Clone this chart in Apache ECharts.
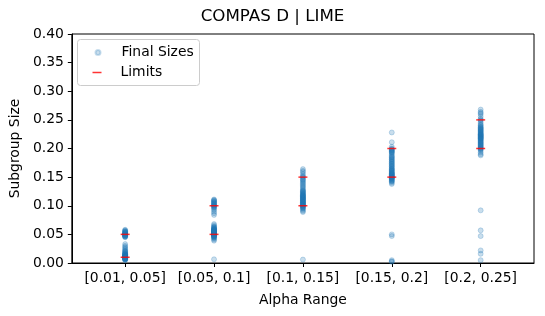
<!DOCTYPE html>
<html><head><meta charset="utf-8">
<script src="https://cdn.jsdelivr.net/npm/echarts@6/dist/echarts.min.js"></script>
<style>html,body{margin:0;padding:0;background:#fff}#c{width:545px;height:316px}</style>
</head><body><div id="c"></div>
<script>
var categories = ['[0.01, 0.05]', '[0.05, 0.1]', '[0.1, 0.15]', '[0.15, 0.2]', '[0.2, 0.25]'];
var yTicks = [0, 0.05, 0.1, 0.15, 0.2, 0.25, 0.3, 0.35, 0.4];
var sizes0 = [0.058,0.057,0.056,0.055,0.055,0.054,0.053,0.053,0.052,0.052,0.051,0.051,0.05,0.05,0.05,0.049,0.049,0.049,0.048,0.048,0.047,0.047,0.046,0.046,0.045,0.033,0.03,0.028,0.026,0.024,0.022,0.021,0.02,0.019,0.018,0.017,0.016,0.016,0.015,0.015,0.015,0.014,0.014,0.014,0.013,0.013,0.013,0.012,0.012,0.012,0.012,0.011,0.011,0.011,0.011,0.01,0.01,0.01,0.01,0.01,0.009,0.009,0.009,0.009,0.008,0.008,0.008,0.008,0.007,0.007,0.007,0.006,0.006,0.005];
var sizes1 = [0.111,0.11,0.109,0.108,0.107,0.106,0.105,0.104,0.103,0.102,0.101,0.1,0.1,0.099,0.098,0.097,0.095,0.093,0.09,0.087,0.084,0.068,0.066,0.064,0.063,0.062,0.061,0.06,0.06,0.059,0.059,0.058,0.058,0.057,0.057,0.057,0.056,0.056,0.055,0.055,0.055,0.054,0.054,0.053,0.053,0.053,0.052,0.052,0.052,0.051,0.051,0.051,0.05,0.05,0.05,0.05,0.049,0.049,0.049,0.048,0.048,0.047,0.047,0.046,0.046,0.045,0.044,0.043,0.041,0.039,0.0065];
var sizes2 = [0.164,0.161,0.159,0.156,0.153,0.151,0.15,0.148,0.146,0.145,0.143,0.141,0.139,0.137,0.135,0.133,0.131,0.129,0.127,0.126,0.125,0.124,0.123,0.122,0.121,0.12,0.119,0.118,0.118,0.117,0.116,0.116,0.115,0.114,0.114,0.113,0.112,0.112,0.111,0.11,0.11,0.109,0.108,0.108,0.107,0.106,0.106,0.105,0.104,0.104,0.103,0.102,0.102,0.101,0.1,0.1,0.1,0.099,0.098,0.097,0.096,0.095,0.093,0.091,0.089,0.006];
var sizes3 = [0.228,0.211,0.203,0.2,0.199,0.198,0.197,0.196,0.195,0.194,0.193,0.192,0.19,0.188,0.186,0.185,0.184,0.182,0.181,0.18,0.178,0.177,0.176,0.174,0.173,0.172,0.17,0.169,0.168,0.166,0.165,0.164,0.163,0.162,0.161,0.16,0.159,0.158,0.157,0.157,0.156,0.155,0.155,0.154,0.153,0.153,0.152,0.151,0.151,0.15,0.15,0.15,0.149,0.148,0.148,0.147,0.146,0.145,0.144,0.143,0.142,0.14,0.138,0.05,0.047,0.005,0.003,0.002];
var sizes4 = [0.268,0.264,0.262,0.26,0.256,0.252,0.25,0.249,0.246,0.243,0.241,0.24,0.238,0.237,0.236,0.235,0.234,0.233,0.232,0.231,0.23,0.229,0.228,0.227,0.226,0.225,0.225,0.224,0.223,0.223,0.222,0.221,0.221,0.22,0.219,0.219,0.218,0.217,0.217,0.216,0.215,0.214,0.213,0.212,0.211,0.21,0.209,0.208,0.207,0.206,0.205,0.204,0.203,0.202,0.201,0.2,0.199,0.198,0.196,0.193,0.19,0.188,0.092,0.057,0.047,0.022,0.016,0.005];
var limitsLow = [0.01, 0.05, 0.1, 0.15, 0.2];
var limitsHigh = [0.05, 0.1, 0.15, 0.2, 0.25];

var allSizes = [sizes0, sizes1, sizes2, sizes3, sizes4];
var sizeData = [];
allSizes.forEach(function (arr, i) { arr.forEach(function (v) { sizeData.push([i, v]); }); });
var limitData = [];
categories.forEach(function (c, i) { limitData.push([i, limitsLow[i]]); limitData.push([i, limitsHigh[i]]); });

var F = 'DejaVu Sans';
var FS = 13.9;
var chart = echarts.init(document.getElementById('c'), null, {renderer: 'canvas'});
chart.setOption({
  animation: false,
  backgroundColor: '#fff',
  textStyle: {fontFamily: F},
  title: {text: 'COMPAS D | LIME', left: 'center', top: 8, padding: 0, textStyle: {fontFamily: F, fontSize: 16.7, fontWeight: 'normal', color: '#000'}},
  grid: {left: 69, right: 11, top: 34, bottom: 53, show: true, borderColor: '#000', borderWidth: 1, backgroundColor: 'transparent'},
  xAxis: {
    type: 'value', min: -0.6, max: 4.6,
    name: 'Alpha Range', nameLocation: 'middle', nameGap: 30,
    nameTextStyle: {fontFamily: F, fontSize: FS, color: '#000', verticalAlign: 'top'},
    axisLine: {show: true, onZero: false, lineStyle: {color: '#000'}},
    axisTick: {show: true, length: 4, lineStyle: {color: '#000'}, customValues: [0, 1, 2, 3, 4]},
    axisLabel: {color: '#000', fontSize: FS, fontFamily: F, margin: 8.5, customValues: [0, 1, 2, 3, 4],
      formatter: function (v) { return categories[Math.round(v)]; }},
    splitLine: {show: false}
  },
  yAxis: {
    type: 'value', min: 0, max: 0.4, interval: 0.05,
    name: 'Subgroup Size', nameLocation: 'middle', nameGap: 46, nameRotate: 90,
    nameTextStyle: {fontFamily: F, fontSize: FS, color: '#000'},
    axisLine: {show: true, onZero: false, lineStyle: {color: '#000'}},
    axisTick: {show: true, length: 4, lineStyle: {color: '#000'}},
    axisLabel: {color: '#000', fontSize: FS, fontFamily: F, margin: 8,
      formatter: function (v) { return v.toFixed(2); }},
    splitLine: {show: false}
  },
  legend: [
    {data: [{name: 'Final Sizes', icon: 'circle'}], orient: 'vertical', left: 94.5, top: 45, padding: 0,
     itemWidth: 5, itemHeight: 5, selectedMode: false,
     textStyle: {fontFamily: F, fontSize: FS, color: '#000', lineHeight: 15, padding: [0, 0, 0, 16]}},
    {data: [{name: 'Limits', icon: 'rect'}], orient: 'vertical', left: 92.5, top: 65, padding: 0,
     itemWidth: 9, itemHeight: 1.5, selectedMode: false,
     textStyle: {fontFamily: F, fontSize: FS, color: '#000', lineHeight: 15, padding: [0, 0, 0, 14]}}
  ],
  graphic: [{type: 'rect', left: 77, top: 39, z: 0, shape: {width: 122, height: 46, r: 3},
    style: {fill: 'rgba(255,255,255,0.8)', stroke: '#cccccc', lineWidth: 1}}],
  series: [
    {name: 'Final Sizes', type: 'scatter', data: sizeData, symbol: 'circle', symbolSize: 5,
     itemStyle: {color: 'rgba(31,119,180,0.3)', borderColor: 'rgba(31,119,180,0.3)', borderWidth: 1}, z: 2},
    {name: 'Limits', type: 'scatter', data: limitData, symbol: 'rect', symbolSize: [9, 1.5],
     itemStyle: {color: '#ff0000'}, z: 3}
  ]
});
</script></body></html>
